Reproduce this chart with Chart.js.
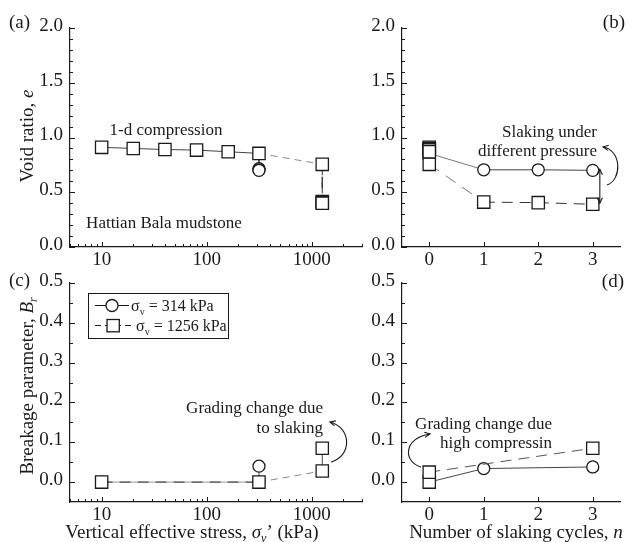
<!DOCTYPE html>
<html>
<head>
<meta charset="utf-8">
<script src="https://cdn.jsdelivr.net/npm/chart.js@4.4.1/dist/chart.umd.min.js"></script>
<style>
  html, body { margin: 0; padding: 0; background: #fff; }
  #lienzo { position: relative; width: 630px; height: 542px; }
  #lienzo canvas { position: absolute; left: 0; top: 0; }
</style>
</head>
<body>
<div id="lienzo">
  <canvas id="cA" width="630" height="542"></canvas>
  <canvas id="cB" width="630" height="542"></canvas>
  <canvas id="cC" width="630" height="542"></canvas>
  <canvas id="cD" width="630" height="542"></canvas>
</div>
<script>
// ── Datos ────────────────────────────────────────────────────────────────────
// (a) relación de vacíos vs tensión vertical efectiva
const tensionA1256 = [10, 20, 40, 80, 160, 314, 1256, 1256, 1256, 1256];
const eA1256       = [0.91, 0.90, 0.89, 0.885, 0.87, 0.855, 0.755, 0.415, 0.405, 0.40];
const tensionA314  = [314, 314, 314, 314];
const eA314        = [0.855, 0.715, 0.705, 0.70];

// (b) relación de vacíos vs ciclos de slaking
const ciclosB      = [0, 1, 2, 3];
const eB314        = [0.855, 0.705, 0.705, 0.70];
const eB1256       = [0.755, 0.41, 0.405, 0.39];
const ciclosCarga  = [0, 0, 0, 0, 0];
const eCarga       = [0.91, 0.90, 0.89, 0.885, 0.87];

// (c) parámetro de rotura vs tensión vertical efectiva
const tensionC1256 = [10, 314, 1256, 1256];
const brC1256      = [0, 0, 0.028, 0.085];
const tensionC314  = [10, 314, 314];
const brC314       = [0, 0, 0.04];

// (d) parámetro de rotura vs ciclos de slaking
const ciclosD314   = [0, 1, 3];
const brD314       = [0, 0.034, 0.038];
const ciclosD1256  = [0, 3];
const brD1256      = [0.025, 0.085];

// Ticks
const xTicksLog = [10, 100, 1000];
const xTicksN   = [0, 1, 2, 3];
const yTicksE   = [0, 0.5, 1.0, 1.5, 2.0];
const yTicksB   = [0, 0.1, 0.2, 0.3, 0.4, 0.5];

// ── Estilo ───────────────────────────────────────────────────────────────────
const FONT = '"Liberation Serif", "Times New Roman", serif';
const INK = '#1a1a1a';
const SOLIDO = { dash: [], color: '#444' };
const GRIS_PUNT = { dash: [7, 5], color: '#8a8a8a' };
const PUNT = { dash: [11, 7], color: '#333' };

const pares = (xs, ys) => xs.map((x, i) => ({ x, y: ys[i] }));
const tramos = fn => ({ borderDash: c => fn(c).dash, borderColor: c => fn(c).color });

// menores del eje log: 2..9 de cada década dentro de [5, 3000]
const menoresLog = [];
[1, 10, 100, 1000].forEach(d => { for (let m = 1; m <= 9; m++) { const v = m * d; if (v >= 5 && v <= 3000) menoresLog.push(v); } });
const pasos = (a, b, s) => { const r = []; for (let v = a; v <= b + 1e-9; v += s) r.push(+v.toFixed(3)); return r; };

// ticks hacia adentro (mayores 5px, menores 3px)
function ticksHacia(xMen, yMen) {
  return {
    id: 'ticksHacia',
    afterDraw(chart) {
      const { ctx, chartArea: a, scales: { x, y } } = chart;
      ctx.save();
      ctx.strokeStyle = INK; ctx.lineWidth = 1;
      ctx.beginPath();
      const tx = (v, L) => { const p = Math.round(x.getPixelForValue(v)) + .5; ctx.moveTo(p, a.bottom); ctx.lineTo(p, a.bottom - L); };
      const ty = (v, L) => { const p = Math.round(y.getPixelForValue(v)) + .5; ctx.moveTo(a.left, p); ctx.lineTo(a.left + L, p); };
      xMen.forEach(v => tx(v, 3));
      x.ticks.forEach(t => tx(t.value, 5));
      yMen.forEach(v => ty(v, 3));
      y.ticks.forEach(t => ty(t.value, 5));
      ctx.stroke();
      ctx.restore();
    },
  };
}

// texto con tramos (itálica / subíndice)
function rico(ctx, partes, x, y, align, size) {
  const f = p => (p.it ? 'italic ' : '') + (p.sub ? Math.round(size * 0.62) : size) + 'px ' + FONT;
  let w = 0;
  partes.forEach(p => { ctx.font = f(p); w += ctx.measureText(p.t).width; });
  let cx = align === 'center' ? x - w / 2 : align === 'right' ? x - w : x;
  ctx.textAlign = 'left'; ctx.textBaseline = 'alphabetic'; ctx.fillStyle = INK;
  partes.forEach(p => { ctx.font = f(p); ctx.fillText(p.t, cx, y + (p.sub ? size * 0.22 : 0)); cx += ctx.measureText(p.t).width; });
}
function ricoV(ctx, partes, x, y, size) {
  ctx.save(); ctx.translate(x, y); ctx.rotate(-Math.PI / 2);
  rico(ctx, partes, 0, 0, 'center', size);
  ctx.restore();
}
function punta(ctx, x, y, ang) {
  const L = 6;
  ctx.beginPath();
  ctx.moveTo(x - L * Math.cos(ang - 0.45), y - L * Math.sin(ang - 0.45));
  ctx.lineTo(x, y);
  ctx.lineTo(x - L * Math.cos(ang + 0.45), y - L * Math.sin(ang + 0.45));
  ctx.stroke();
}
function curva(ctx, p0, c1, c2, p1) {
  ctx.save(); ctx.strokeStyle = INK; ctx.lineWidth = 1.1;
  ctx.beginPath(); ctx.moveTo(p0[0], p0[1]); ctx.bezierCurveTo(c1[0], c1[1], c2[0], c2[1], p1[0], p1[1]); ctx.stroke();
  punta(ctx, p1[0], p1[1], Math.atan2(p1[1] - c2[1], p1[0] - c2[0]));
  ctx.restore();
}

function serie(label, datos, estiloPunto, radio, segmento, color) {
  return {
    label, data: datos, pointStyle: estiloPunto, pointRadius: radio,
    pointBackgroundColor: '#fff', pointBorderColor: INK, pointBorderWidth: 1.3,
    borderWidth: 1, borderColor: color || '#444', segment: segmento, fill: false,
  };
}

const RC = 6, RR = 8.7; // radios: círculo / cuadrado

function nuevoPanel(id, area, ejeX, ejeY, xMen, yMen, datasets, anotar) {
  const Y_W = 40, X_H = 30;
  const eje = (c, horiz) => ({
    type: c.type, min: c.min, max: c.max,
    afterBuildTicks: s => { s.ticks = c.ticks.map(v => ({ value: v })); },
    afterFit: s => { if (horiz) s.height = X_H; else s.width = Y_W; },
    grid: { display: false, drawTicks: false },
    border: { display: true, color: INK, width: 1.2 },
    ticks: {
      autoSkip: false, maxRotation: 0, color: INK,
      padding: horiz ? 2 : 7, labelOffset: horiz ? 0 : -2,
      font: { family: FONT, size: 19 }, callback: c.fmt,
    },
  });
  return new Chart(document.getElementById(id), {
    type: 'line',
    data: { datasets },
    options: {
      responsive: false, animation: false, events: [],
      layout: { padding: { left: area.l - Y_W, right: 630 - area.r, top: area.t, bottom: 542 - area.b - X_H } },
      plugins: { legend: { display: false }, tooltip: { enabled: false } },
      scales: { x: eje(ejeX, true), y: eje(ejeY, false) },
    },
    plugins: [ticksHacia(xMen, yMen), { id: 'anotar', afterDraw: ch => { ch.ctx.save(); anotar(ch); ch.ctx.restore(); } }],
  });
}

const ejeLog = { type: 'logarithmic', min: 5, max: 3000, ticks: xTicksLog, fmt: v => String(v) };
const ejeN   = { type: 'linear', min: -0.5, max: 3.5, ticks: xTicksN, fmt: v => String(v) };
const ejeE   = { type: 'linear', min: 0, max: 2, ticks: yTicksE, fmt: v => v.toFixed(1) };
const ejeB   = { type: 'linear', min: -0.05, max: 0.5, ticks: yTicksB, fmt: v => v.toFixed(1) };

const menE = pasos(0.1, 1.9, 0.1);
const menB = pasos(0.05, 0.45, 0.1);

// (a)
nuevoPanel('cA', { l: 70, r: 362, t: 28, b: 247 }, ejeLog, ejeE, menoresLog, menE, [
  serie('σv = 1256 kPa', pares(tensionA1256, eA1256), 'rect', RR,
    tramos(c => c.p1.parsed.x <= 314 ? SOLIDO : (c.p0.parsed.x < 1256 ? GRIS_PUNT : PUNT))),
  serie('σv = 314 kPa', pares(tensionA314, eA314), 'circle', [0, RC, RC, RC], tramos(() => SOLIDO)),
], ch => {
  const ctx = ch.ctx;
  rico(ctx, [{ t: '(a)' }], 9, 28, 'left', 19);
  rico(ctx, [{ t: '1-d compression' }], 166, 135, 'center', 17);
  rico(ctx, [{ t: 'Hattian Bala mudstone' }], 164, 228, 'center', 17);
  ricoV(ctx, [{ t: 'Void ratio, ' }, { t: 'e', it: true }], 33, 136, 19);
});

// (b)
nuevoPanel('cB', { l: 402, r: 622, t: 28, b: 247 }, ejeN, ejeE, [], menE, [
  serie('carga', pares(ciclosCarga, eCarga), 'rect', RR, undefined, 'rgba(0,0,0,0)'),
  serie('σv = 1256 kPa', pares(ciclosB, eB1256), 'rect', RR,
    tramos(c => c.p0.parsed.x === 0 ? { dash: [12, 8], color: '#777' } : PUNT)),
  serie('σv = 314 kPa', pares(ciclosB, eB314), ['rect', 'circle', 'circle', 'circle'], [RR, RC, RC, RC],
    tramos(c => c.p0.parsed.x === 0 ? { dash: [], color: '#777' } : SOLIDO)),
], ch => {
  const ctx = ch.ctx, x = ch.scales.x, y = ch.scales.y;
  rico(ctx, [{ t: '(b)' }], 625, 28, 'right', 19);
  rico(ctx, [{ t: 'Slaking under' }], 597, 137, 'right', 17);
  rico(ctx, [{ t: 'different pressure' }], 597, 156, 'right', 17);
  // flecha doble entre 314 y 1256 kPa en n = 3
  const px = x.getPixelForValue(3.13), y0 = y.getPixelForValue(0.71), y1 = y.getPixelForValue(0.40);
  ctx.strokeStyle = INK; ctx.lineWidth = 1.1;
  ctx.beginPath(); ctx.moveTo(px, y0); ctx.lineTo(px, y1); ctx.stroke();
  punta(ctx, px, y0, -Math.PI / 2); punta(ctx, px, y1, Math.PI / 2);
  curva(ctx, [607, 185], [622, 180], [622, 150], [603, 147]);
});

// (c)
nuevoPanel('cC', { l: 70, r: 362, t: 283, b: 502 }, ejeLog, ejeB, menoresLog, menB, [
  serie('σv = 1256 kPa', pares(tensionC1256, brC1256), 'rect', RR,
    tramos(c => c.p1.parsed.x <= 314 ? PUNT : (c.p0.parsed.x < 1256 ? GRIS_PUNT : SOLIDO))),
  serie('σv = 314 kPa', pares(tensionC314, brC314), 'circle', RC,
    tramos(c => c.p1.parsed.x <= 314 && c.p0.parsed.x < 314 ? { dash: [], color: '#999' } : SOLIDO)),
], ch => {
  const ctx = ch.ctx;
  rico(ctx, [{ t: '(c)' }], 9, 286, 'left', 19);
  rico(ctx, [{ t: 'Grading change due' }], 323, 413, 'right', 17);
  rico(ctx, [{ t: 'to slaking' }], 323, 433, 'right', 17);
  curva(ctx, [331, 462], [352, 456], [352, 428], [330, 422]);
  ricoV(ctx, [{ t: 'Breakage parameter, ' }, { t: 'B', it: true }, { t: 'r', it: true, sub: true }], 33, 386, 19);
  rico(ctx, [{ t: 'Vertical effective stress, ' }, { t: 'σ', it: true }, { t: 'v', it: true, sub: true }, { t: '’ (kPa)' }], 192, 538, 'center', 19);
  // leyenda
  ctx.strokeStyle = INK; ctx.lineWidth = 1;
  ctx.strokeRect(88.5, 293.5, 140, 45);
  ctx.beginPath(); ctx.moveTo(95, 305.5); ctx.lineTo(129, 305.5); ctx.stroke();
  ctx.beginPath(); ctx.setLineDash([6, 4]); ctx.moveTo(95, 325.5); ctx.lineTo(131, 325.5); ctx.stroke(); ctx.setLineDash([]);
  ctx.fillStyle = '#fff'; ctx.lineWidth = 1.3;
  ctx.beginPath(); ctx.arc(112, 305.5, RC, 0, Math.PI * 2); ctx.fill(); ctx.stroke();
  ctx.fillRect(107, 319.5, 12.3, 12.3); ctx.strokeRect(107, 319.5, 12.3, 12.3);
  rico(ctx, [{ t: 'σ' }, { t: 'v', sub: true }, { t: ' = 314 kPa' }], 131, 311, 'left', 16);
  rico(ctx, [{ t: 'σ' }, { t: 'v', sub: true }, { t: ' = 1256 kPa' }], 136, 331, 'left', 16);
});

// (d)
nuevoPanel('cD', { l: 402, r: 620, t: 283, b: 502 }, ejeN, ejeB, [], menB, [
  serie('σv = 1256 kPa', pares(ciclosD1256, brD1256), 'rect', RR, tramos(() => ({ dash: [11, 7], color: '#555' }))),
  serie('σv = 314 kPa', pares(ciclosD314, brD314), ['rect', 'circle', 'circle'], [RR, RC, RC], tramos(() => SOLIDO)),
], ch => {
  const ctx = ch.ctx;
  rico(ctx, [{ t: '(d)' }], 624, 287, 'right', 19);
  rico(ctx, [{ t: 'Grading change due' }], 552, 429, 'right', 17);
  rico(ctx, [{ t: 'high compressin' }], 552, 448, 'right', 17);
  curva(ctx, [421, 467], [403, 462], [403, 438], [430, 434]);
  rico(ctx, [{ t: 'Number of slaking cycles, ' }, { t: 'n', it: true }], 516, 538, 'center', 19);
});
</script>
</body>
</html>
